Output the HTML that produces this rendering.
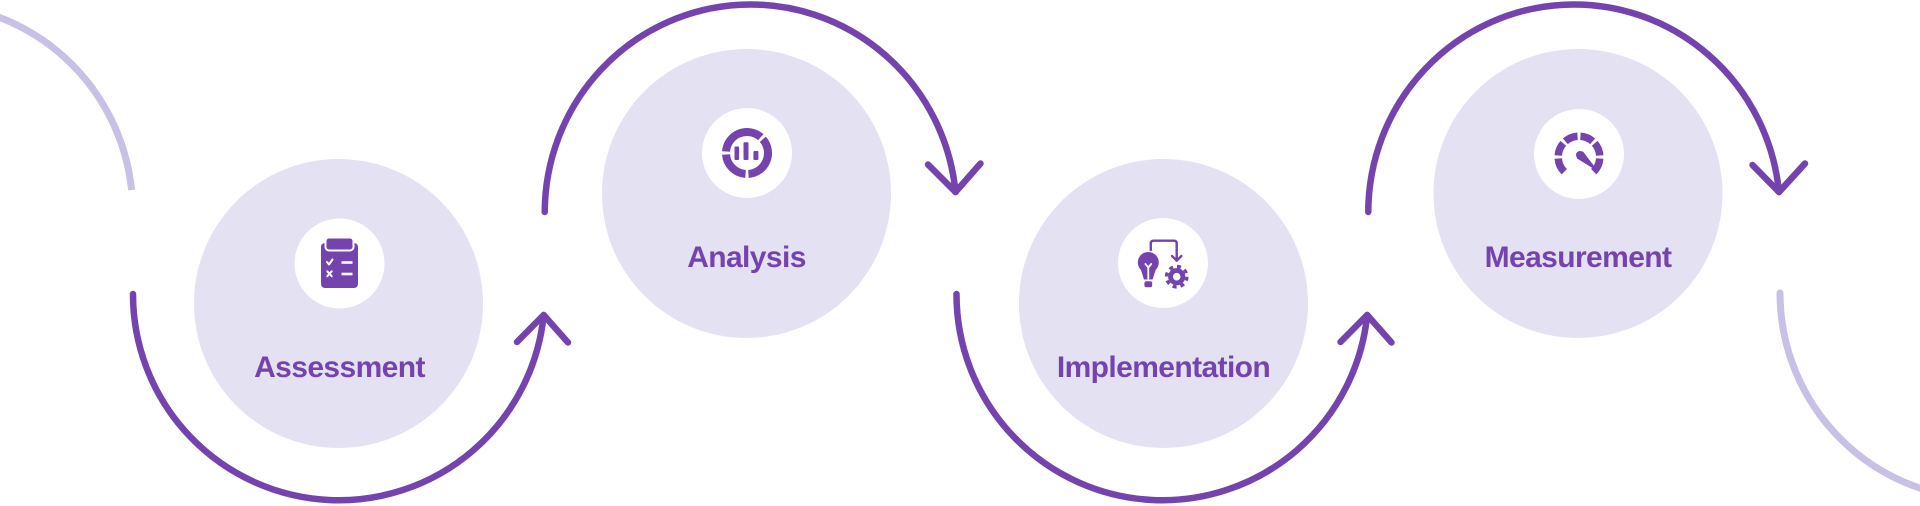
<!DOCTYPE html>
<html>
<head>
<meta charset="utf-8">
<style>
  html,body{margin:0;padding:0;background:#ffffff;}
  body{width:1920px;height:506px;overflow:hidden;}
  svg{display:block;}
  .lbl{font-family:"Liberation Sans",Arial,sans-serif;font-weight:700;font-size:30px;letter-spacing:-0.6px;fill:#7443ad;}
</style>
</head>
<body>
<svg width="1920" height="506" viewBox="0 0 1920 506" xmlns="http://www.w3.org/2000/svg">
  <!-- big lavender circles -->
  <g fill="#e4e1f2">
    <circle cx="338.5" cy="303.5" r="144.5"/>
    <circle cx="746.5" cy="193.5" r="144.5"/>
    <circle cx="1163.5" cy="303.5" r="144.5"/>
    <circle cx="1578" cy="193.5" r="144.5"/>
  </g>

  <!-- light faded connectors -->
  <g fill="none" stroke="#c8c0e5" stroke-width="7">
    <path d="M-72.9 4 A205.875 208 0 0 1 131.6 190" stroke-linecap="butt"/>
    <path d="M1780 293 A205.875 206 0 0 0 1985.9 499" stroke-linecap="round"/>
  </g>

  <!-- main connectors -->
  <g fill="none" stroke="#7443ad" stroke-width="6.5" stroke-linecap="round" stroke-linejoin="round">
    <path d="M133 294 A205.875 206 0 0 0 543.7 315"/>
    <polyline points="517,342 543.7,315 568,342.5"/>

    <path d="M544.75 212 A205.875 208 0 0 1 955.5 192"/>
    <polyline points="928,164.5 955.5,192 980.5,163.5"/>

    <path d="M956.5 294 A205.875 206 0 0 0 1367.2 315"/>
    <polyline points="1340.5,342 1367.2,315 1391.5,342.5"/>

    <path d="M1368.25 212 A205.875 208 0 0 1 1779 192"/>
    <polyline points="1752.5,165 1779,192 1805,163.5"/>
  </g>

  <!-- icon white circles -->
  <g fill="#ffffff">
    <circle cx="339.5" cy="263.5" r="45"/>
    <circle cx="747" cy="153" r="45"/>
    <circle cx="1163" cy="263" r="45"/>
    <circle cx="1579" cy="154" r="45"/>
  </g>

  <!-- Icon 1: clipboard -->
  <g>
    <rect x="321" y="243" width="37" height="45" rx="4" fill="#7443ad"/>
    <rect x="325.5" y="237.5" width="28" height="13" rx="3.5" fill="#7443ad" stroke="#ffffff" stroke-width="2"/>
    <g fill="none" stroke="#ffffff" stroke-width="2" stroke-linecap="round" stroke-linejoin="round">
      <polyline points="327,262 329,264.5 332.5,259.5"/>
      <line x1="327.3" y1="271.3" x2="331.7" y2="276.2"/>
      <line x1="331.7" y1="271.3" x2="327.3" y2="276.2"/>
    </g>
    <g stroke="#ffffff" stroke-width="2.6" stroke-linecap="butt">
      <line x1="341.5" y1="262.5" x2="352.5" y2="262.5"/>
      <line x1="341.5" y1="274" x2="352.5" y2="274"/>
    </g>
  </g>

  <!-- Icon 2: donut chart -->
  <g>
    <g fill="none" stroke="#7443ad" stroke-width="8">
      <path d="M726.05 151.53 A21 21 0 0 1 760.78 137.15"/>
      <path d="M762.85 139.22 A21 21 0 0 1 748.47 173.95"/>
      <path d="M745.53 173.95 A21 21 0 0 1 726.05 154.47"/>
    </g>
    <g fill="#7443ad">
      <rect x="734.5" y="146.5" width="4.6" height="13.5" rx="1"/>
      <rect x="743.5" y="142.3" width="5" height="17.7" rx="1"/>
      <rect x="753.4" y="151" width="5" height="9" rx="1"/>
    </g>
  </g>

  <!-- Icon 3: bulb + gear + arrow -->
  <g>
    <path d="M1140.9 269.9 A10.5 10.5 0 1 1 1155.7 269.9 L1152.6 279.5 L1144 279.5 Z" fill="#7443ad"/>
    <rect x="1144.4" y="281.3" width="7.8" height="6" rx="2" fill="#7443ad"/>
    <g fill="none" stroke="#ffffff" stroke-width="1.8" stroke-linecap="round" stroke-linejoin="round">
      <polyline points="1145.4,264 1148.3,267.5 1151.2,264"/>
      <line x1="1148.3" y1="267.5" x2="1148.3" y2="279"/>
    </g>
    <circle cx="1176.7" cy="276.7" r="8.6" fill="#7443ad"/>
    <circle cx="1176.7" cy="276.7" r="10.2" fill="none" stroke="#7443ad" stroke-width="3.4" stroke-dasharray="4 4.01"/>
    <circle cx="1176.7" cy="276.7" r="3.8" fill="#ffffff"/>
    <g fill="none" stroke="#7443ad" stroke-width="2.4" stroke-linecap="round" stroke-linejoin="round">
      <path d="M1150.8 250 L1150.8 243.5 Q1150.8 240.7 1153.6 240.7 L1173.9 240.7 Q1176.7 240.7 1176.7 243.5 L1176.7 260"/>
      <polyline points="1172,256 1176.7,260.7 1181.4,256"/>
    </g>
  </g>

  <!-- Icon 4: gauge -->
  <g>
    <g fill="none" stroke="#7443ad" stroke-width="7.5">
      <path d="M1564.29 171.71 A20.8 20.8 0 0 1 1558.25 158.45"/>
      <path d="M1558.25 155.55 A20.8 20.8 0 0 1 1563.30 143.35"/>
      <path d="M1565.35 141.30 A20.8 20.8 0 0 1 1577.55 136.25"/>
      <path d="M1580.45 136.25 A20.8 20.8 0 0 1 1592.65 141.30"/>
      <path d="M1594.70 143.35 A20.8 20.8 0 0 1 1599.75 155.55"/>
      <path d="M1599.75 158.45 A20.8 20.8 0 0 1 1593.71 171.71"/>
    </g>
    <circle cx="1580" cy="155" r="4" fill="#7443ad"/>
    <path d="M1577.4 158 L1596 169.5 L1582.6 152 Z" fill="#7443ad" stroke="#7443ad" stroke-width="1.2" stroke-linejoin="round"/>
  </g>

  <!-- labels -->
  <text class="lbl" x="339.5" y="377" text-anchor="middle">Assessment</text>
  <text class="lbl" x="746.5" y="267" text-anchor="middle">Analysis</text>
  <text class="lbl" x="1163.5" y="377" text-anchor="middle">Implementation</text>
  <text class="lbl" x="1578" y="267" text-anchor="middle">Measurement</text>
</svg>
</body>
</html>
